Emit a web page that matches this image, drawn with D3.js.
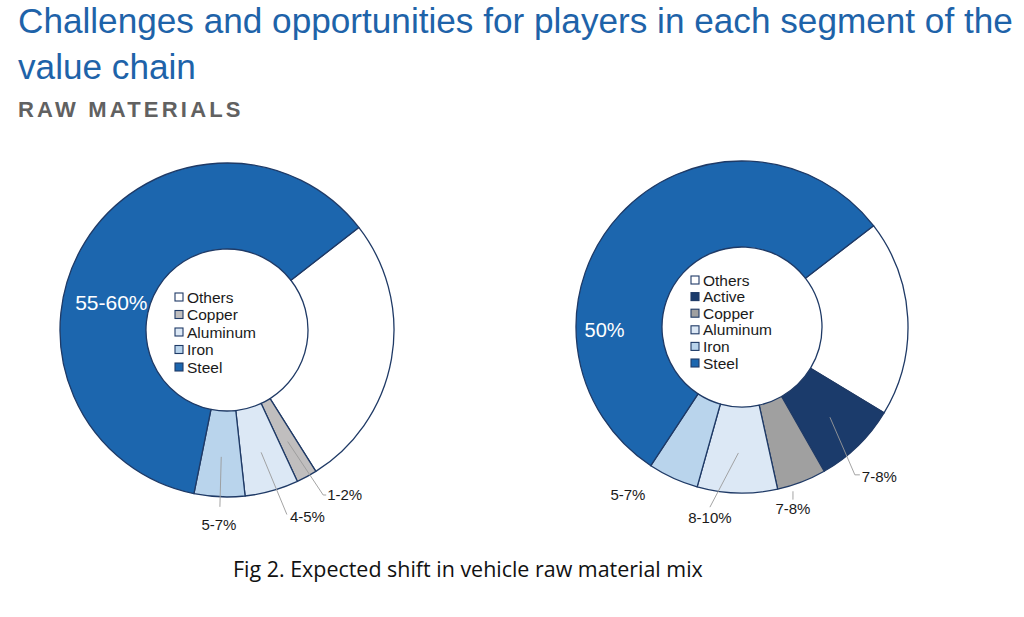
<!DOCTYPE html>
<html><head><meta charset="utf-8">
<script src="https://cdn.jsdelivr.net/npm/d3@7"></script>
<style>body{margin:0;background:#fff}svg{display:block}</style>
</head><body>
<script>
// ---------- data ----------
const titleLines = ["Challenges and opportunities for players in each segment of the", "value chain"];
const subtitle = "RAW MATERIALS";
const caption = "Fig 2. Expected shift in vehicle raw material mix";

const leftCategories = ["Others", "Copper", "Aluminum", "Iron", "Steel"];
const leftValues = [26.6, 2.0, 5.2, 4.9, 61.3];
const leftLabels = ["", "1-2%", "4-5%", "5-7%", "55-60%"];

const rightCategories = ["Others", "Active", "Copper", "Aluminum", "Iron", "Steel"];
const rightValues = [19.1, 8.1, 4.8, 7.8, 4.9, 55.3];
const rightLabels = ["", "7-8%", "7-8%", "8-10%", "5-7%", "50%"];

// ---------- styles / layout ----------
const COL = {Others:"#ffffff", Active:"#1b3b6b", Aluminum:"#dce8f5", Iron:"#b9d4ec", Steel:"#1c66ae"};
const leftColors = leftCategories.map(c => c === "Copper" ? "#c0bebe" : COL[c]);
const rightColors = rightCategories.map(c => c === "Copper" ? "#a0a0a0" : COL[c]);
const FONT = "'Liberation Sans', Arial, Helvetica, sans-serif";

const leftLayout = [
  null,
  {line:true, r0:127, a0:0, r1:191, a1:-1.7, tick:3, dx:1, dy:5, anchor:"start"},
  {line:true, r0:127, a0:0, r1:194, a1:-2.4, tick:0, dx:3, dy:7, anchor:"start"},
  {line:true, r0:127, a0:0, r1:177, a1:-0.3, tick:0, dx:-1, dy:23, anchor:"middle"},
  {line:false, a:-18.2, r:119, dy:7.5, anchor:"middle", fill:"#ffffff", size:21}
];
const rightLayout = [
  null,
  {line:true, r0:126, a0:0, r1:186, a1:6.9, tick:5, dx:2, dy:7, anchor:"start"},
  {line:true, r0:172, a0:3.8, r1:180, a1:4.6, tick:0, dx:0, dy:14, anchor:"middle"},
  {line:true, r0:126, a0:0, r1:183, a1:8.46, tick:0, dx:0, dy:16, anchor:"middle"},
  {line:false, a:9.7, r:203, dy:5, anchor:"middle"},
  {line:false, a:-44.1, r:137.5, dy:7, anchor:"middle", fill:"#ffffff", size:20}
];

const W = 1024, H = 617;
const deg = Math.PI / 180;
const svg = d3.select("body").append("svg").attr("width", W).attr("height", H)
  .style("font-family", FONT);

function fitWidth(sel, target) {
  const fs = parseFloat(sel.attr("font-size"));
  const w = sel.node().getComputedTextLength();
  const nf = fs * target / w;
  sel.attr("font-size", nf);
  return nf;
}

// Titles (slightly condensed, as in the reference)
const tg = svg.append("g");
const t1 = tg.append("text").attr("x", 0).attr("y", 33).attr("font-size", 34.5)
  .attr("fill", "#1e63a9").text(titleLines[0]);
const sx = 995 / t1.node().getComputedTextLength();
tg.append("text").attr("x", 0).attr("y", 79).attr("font-size", 34.5)
  .attr("fill", "#1e63a9").text(titleLines[1]);
tg.attr("transform", `translate(18,0) scale(${sx},1)`);

svg.append("text").attr("x", 18).attr("y", 117).attr("font-size", 22)
  .attr("font-weight", "bold").attr("letter-spacing", 3.2).attr("fill", "#616161").text(subtitle);

// Caption
const cap = svg.append("text").attr("x", 233).attr("y", 577).attr("font-size", 20)
  .attr("fill", "#111").style("font-family", "'Open Sans', 'Noto Sans', sans-serif").text(caption);
fitWidth(cap, 470);

function polar(a, r) { return [r * Math.sin(a), -r * Math.cos(a)]; }

function drawDonut(cfg) {
  const data = cfg.categories.map((c, i) => ({cat: c, value: cfg.values[i], label: cfg.labels[i], color: cfg.colors[i], lay: cfg.layout[i]}));
  const pie = d3.pie().sort(null).value(d => d.value)
    .startAngle(cfg.start * deg).endAngle(cfg.start * deg + 2 * Math.PI);
  const arcs = pie(data);
  const arc = d3.arc().innerRadius(cfg.r).outerRadius(cfg.R);
  const g = svg.append("g").attr("transform", `translate(${cfg.cx},${cfg.cy})`);
  g.selectAll("path.slice").data(arcs).join("path").attr("class", "slice")
    .attr("d", arc).attr("fill", d => d.data.color)
    .attr("stroke", "#1f3a66").attr("stroke-width", 1.3).attr("stroke-linejoin", "round");

  arcs.forEach(a => {
    const L = a.data.lay; if (!L) return;
    const mid = (a.startAngle + a.endAngle) / 2;
    if (L.line) {
      const p0 = polar(mid + L.a0 * deg, L.r0);
      const p1 = polar(mid + L.a1 * deg, L.r1);
      const p2 = [p1[0] + L.tick, p1[1]];
      g.append("path").attr("d", d3.line()([p0, p1, p2]))
        .attr("fill", "none").attr("stroke", "#9a9a9a").attr("stroke-width", 0.9);
      g.append("text").attr("x", p2[0] + L.dx).attr("y", p2[1] + L.dy)
        .attr("text-anchor", L.anchor).attr("font-size", 15).attr("fill", "#1a1a1a")
        .text(a.data.label);
    } else {
      const p = polar(mid + L.a * deg, L.r);
      g.append("text").attr("x", p[0]).attr("y", p[1] + L.dy)
        .attr("text-anchor", L.anchor).attr("font-size", L.size || 15)
        .attr("fill", L.fill || "#1a1a1a").text(a.data.label);
    }
  });

  // legend inside hole
  const lg = g.append("g").attr("transform", `translate(${cfg.legX},${cfg.legY})`);
  data.forEach((d, i) => {
    const y = i * cfg.legStep;
    lg.append("rect").attr("x", 0).attr("y", y - 4).attr("width", 8).attr("height", 8)
      .attr("fill", d.color).attr("stroke", "#1f3a66").attr("stroke-width", 1.1);
    lg.append("text").attr("x", 12).attr("y", y + 5.5).attr("font-size", 15.5)
      .attr("fill", "#1a1a1a").text(d.cat);
  });
}

drawDonut({categories: leftCategories, values: leftValues, labels: leftLabels, colors: leftColors,
  layout: leftLayout, cx: 227, cy: 330, R: 167, r: 81, start: 52.1,
  legX: -52, legY: -33, legStep: 17.5});
drawDonut({categories: rightCategories, values: rightValues, labels: rightLabels, colors: rightColors,
  layout: rightLayout, cx: 742, cy: 327, R: 166, r: 80, start: 52.4,
  legX: -51, legY: -47, legStep: 16.6});
</script>
</body></html>
